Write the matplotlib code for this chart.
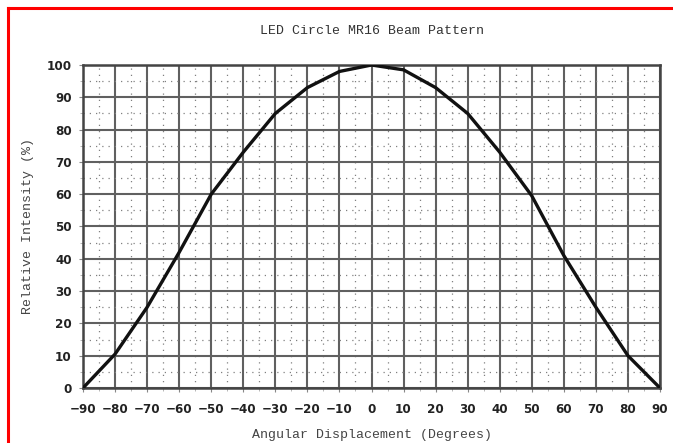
import matplotlib
matplotlib.use("Agg")
import matplotlib.pyplot as plt
from matplotlib.lines import Line2D
import numpy as np

# Beam pattern
angle_deg = [-90, -80, -70, -60, -50, -40, -30, -20, -10, 0,
             10, 20, 30, 40, 50, 60, 70, 80, 90]
intensity_pct = [0, 10.5, 25, 42, 60, 73, 85, 93, 98, 100,
                 98.5, 93, 85, 73, 59.5, 41, 25, 10, 0]

x_ticks = list(range(-90, 91, 10))
y_ticks = list(range(0, 101, 10))

title_text = "LED Circle MR16 Beam Pattern"
x_label = "Angular Displacement (Degrees)"
y_label = "Relative Intensity (%)"

mono = "Liberation Mono"
grid_color = "#606060"

fig = plt.figure(figsize=(6.73, 4.43), dpi=100)
ax = fig.add_axes([83 / 673, 1 - 388 / 443, 577 / 673, 323 / 443])

ax.plot(angle_deg, intensity_pct, color="#111111", lw=2.4, solid_joinstyle="round",
        solid_capstyle="round", zorder=5)

ax.set_xlim(-90, 90)
ax.set_ylim(0, 100)
ax.set_xticks(x_ticks)
ax.set_yticks(y_ticks)
ax.set_xticks(np.arange(-90, 91, 5), minor=True)
ax.set_yticks(np.arange(0, 101, 5), minor=True)

ax.grid(which="major", color=grid_color, lw=1.5)
ax.grid(which="minor", color="#808080", lw=0.9, linestyle=(0, (1, 4)))
ax.set_axisbelow(True)

for s in ax.spines.values():
    s.set_color("#444444")
    s.set_linewidth(1.8)

ax.tick_params(which="major", length=3, width=0.8, color="#888888")
ax.tick_params(axis="x", which="major", pad=8)
ax.tick_params(axis="y", which="major", pad=5)
ax.tick_params(which="minor", length=2, width=0.6, color="#aaaaaa")
for lab in ax.get_xticklabels() + ax.get_yticklabels():
    lab.set_fontfamily("DejaVu Sans")
    lab.set_fontweight("bold")
    lab.set_fontsize(9.5)
    lab.set_fontstretch("condensed")
    lab.set_color("#222222")

ax.set_title(title_text, fontfamily=mono, fontsize=9.5, color="#333333", pad=22)
ax.set_xlabel(x_label, fontfamily=mono, fontsize=9.5, color="#444444", labelpad=9)
ax.set_ylabel(y_label, fontfamily=mono, fontsize=9.5, color="#444444", labelpad=9)

# red screenshot frame at left and top
fig.add_artist(Line2D([8 / 673, 8 / 673], [0, 1 - 8 / 443], transform=fig.transFigure,
                      color="red", lw=2.2))
fig.add_artist(Line2D([8 / 673, 1], [1 - 8 / 443, 1 - 8 / 443], transform=fig.transFigure,
                      color="red", lw=2.2))

fig.savefig("out.png", dpi=100)
